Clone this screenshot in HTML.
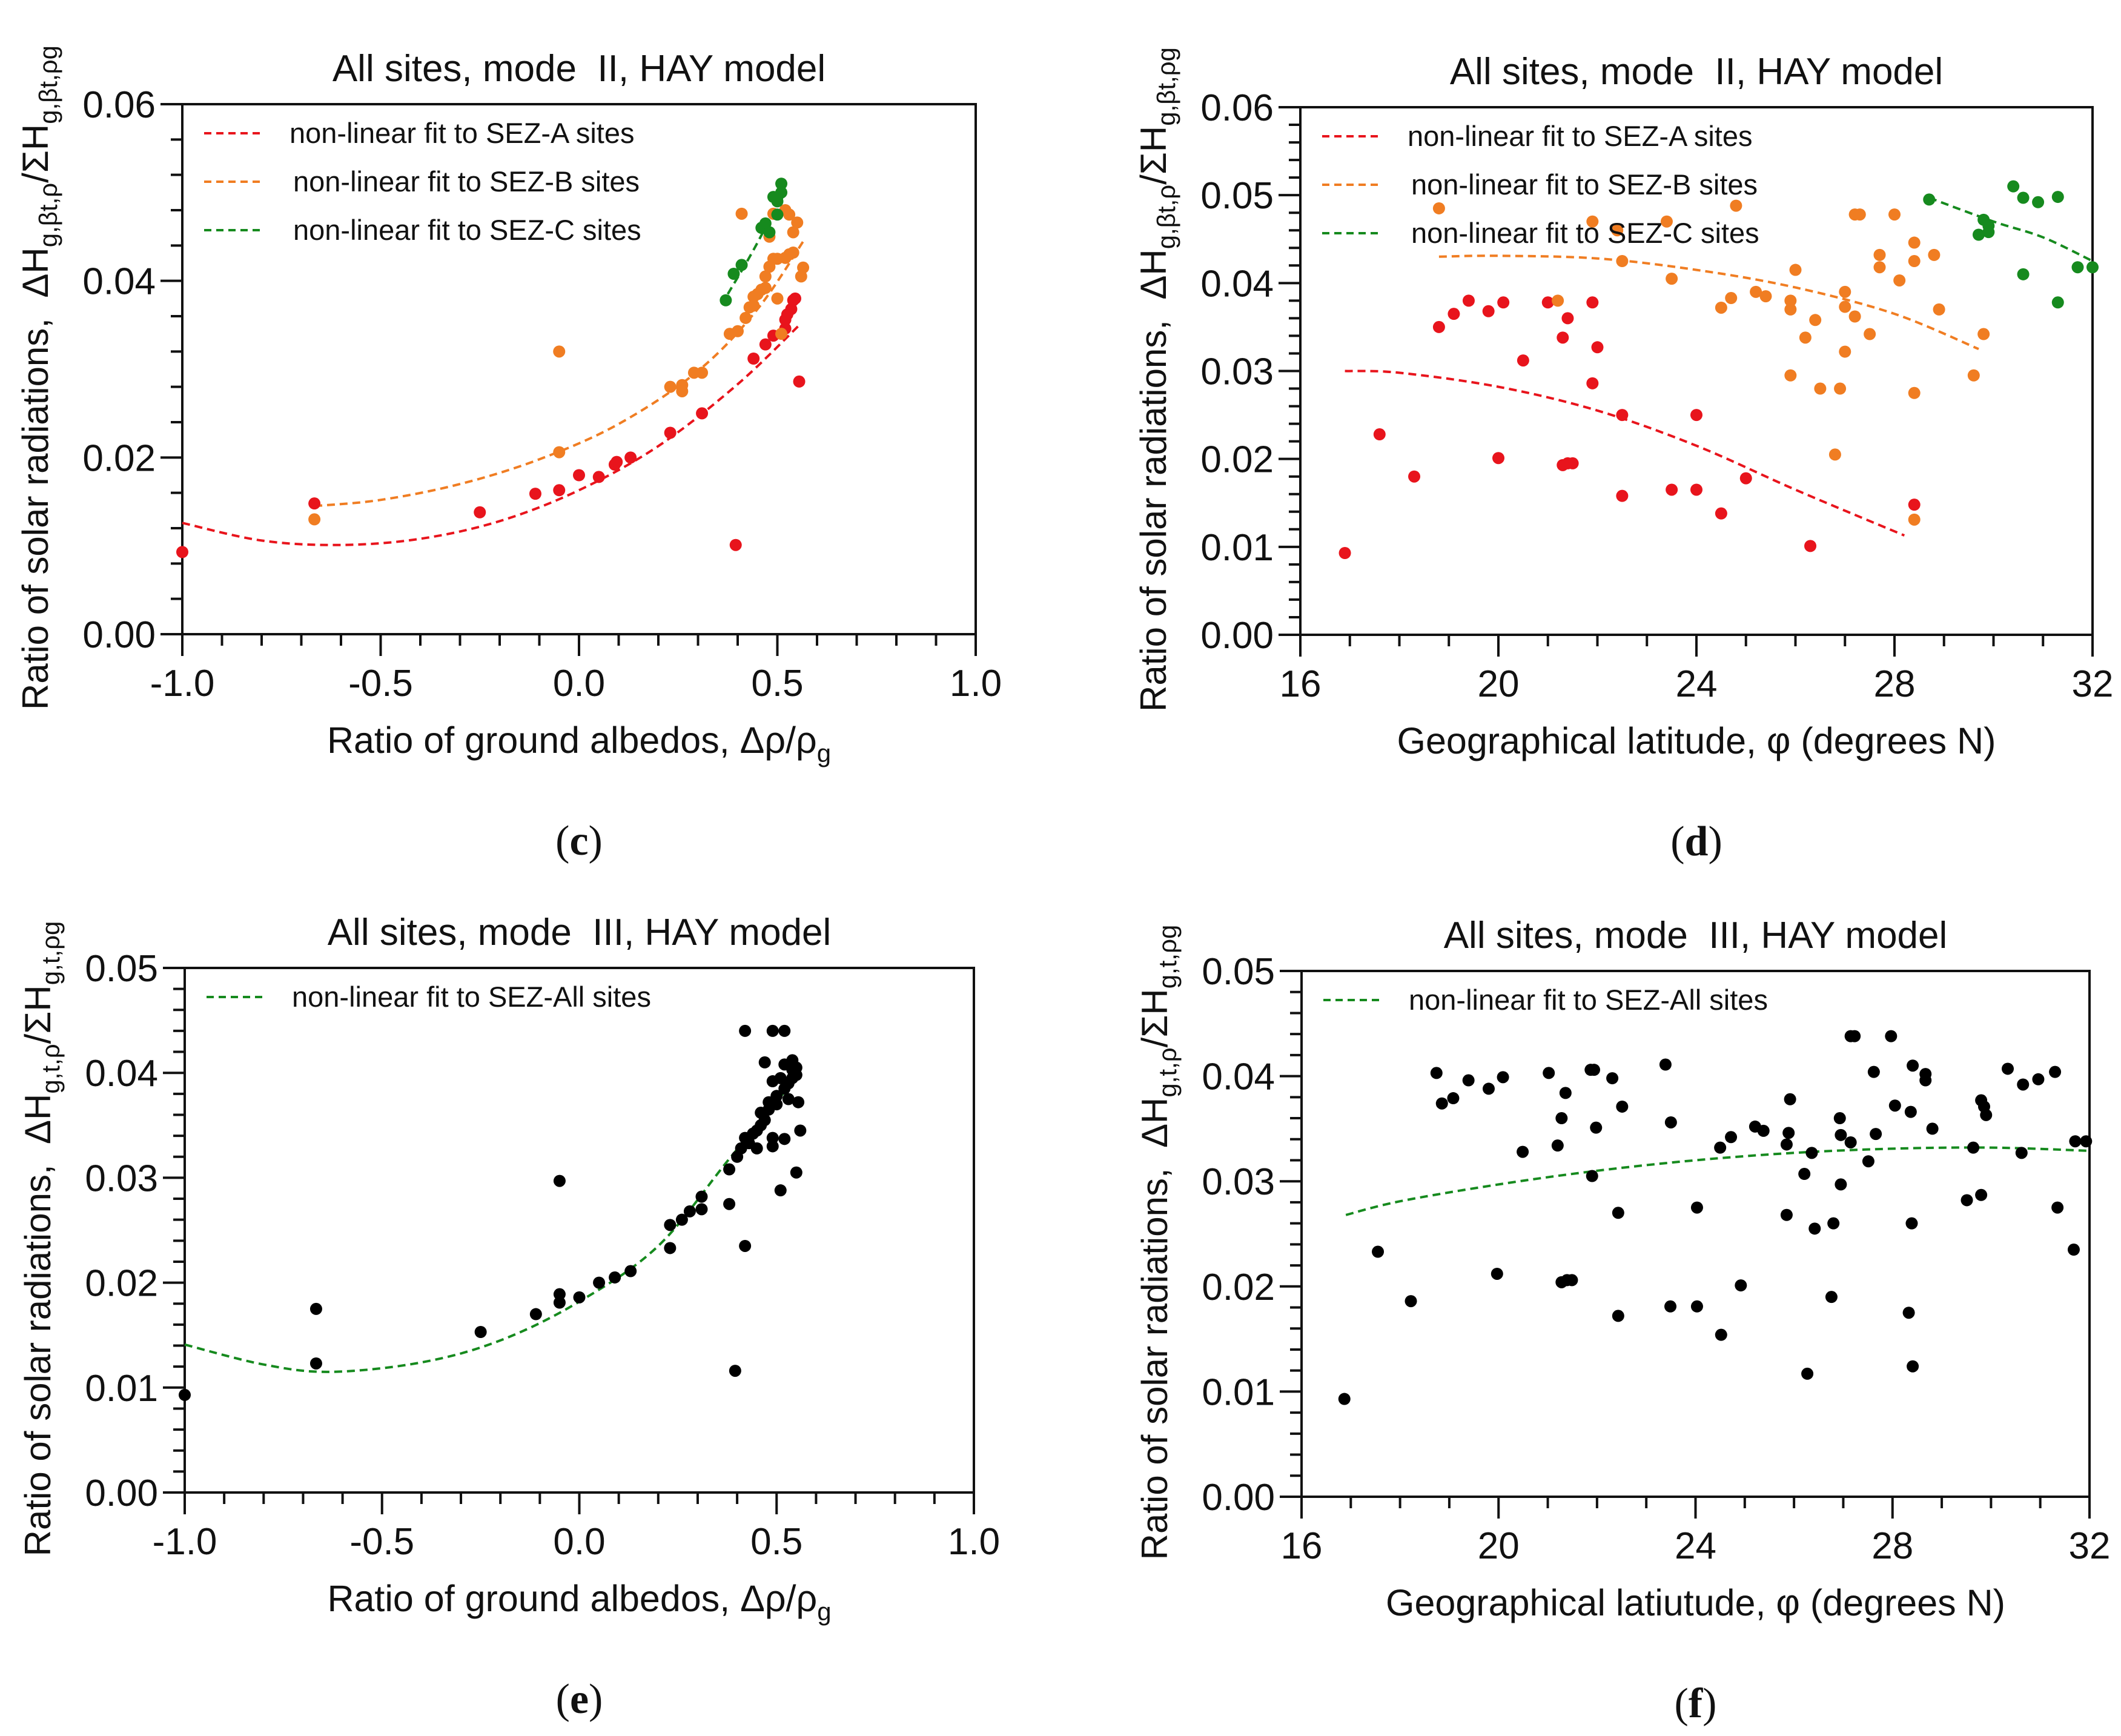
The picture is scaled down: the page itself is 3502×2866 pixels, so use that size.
<!DOCTYPE html>
<html><head><meta charset="utf-8">
<style>
html,body{margin:0;padding:0;background:#fff;}
svg{display:block;}
text{font-family:"Liberation Sans",Arial,sans-serif;fill:#111;white-space:pre;}
</style></head>
<body>
<svg id="fig" width="3502" height="2866" viewBox="0 0 3502 2866" xmlns="http://www.w3.org/2000/svg"></svg>
<script>
// ---------- Panel (c) data ----------
const cRedX = [-1,-0.667,-0.25,-0.11,-0.05,0,0.05,0.09,0.095,0.13,0.23,0.31,0.395,0.44,0.47,0.49,0.52,0.52,0.525,0.535,0.54,0.545,0.555];
const cRedY = [0.0093,0.0148,0.0138,0.0159,0.0163,0.018,0.0178,0.0192,0.0195,0.02,0.0228,0.025,0.0101,0.0312,0.0328,0.0338,0.0346,0.0356,0.0362,0.0368,0.0378,0.038,0.0286];
const cOrgX = [-0.667,-0.05,-0.05,0.23,0.26,0.26,0.29,0.31,0.38,0.4,0.41,0.42,0.43,0.44,0.44,0.45,0.46,0.47,0.47,0.48,0.48,0.49,0.49,0.5,0.5,0.51,0.52,0.52,0.53,0.53,0.54,0.54,0.55,0.56,0.565];
const cOrgY = [0.013,0.032,0.0206,0.028,0.0282,0.0275,0.0296,0.0296,0.034,0.0343,0.0476,0.0358,0.037,0.0372,0.0382,0.0385,0.039,0.0392,0.0405,0.0416,0.045,0.0425,0.0476,0.038,0.0425,0.034,0.0426,0.048,0.0475,0.043,0.0432,0.0455,0.0466,0.0405,0.0415];
const cGrnX = [0.37,0.39,0.41,0.46,0.47,0.48,0.49,0.5,0.5,0.5,0.51,0.51];
const cGrnY = [0.0378,0.0408,0.0418,0.046,0.0465,0.0455,0.0495,0.0495,0.049,0.0475,0.05,0.051];
const cFitRedX = [-1,-0.8,-0.6,-0.4,-0.2,0,0.2,0.4,0.56];
const cFitRedY = [0.0126,0.0106,0.0101,0.0108,0.0128,0.0163,0.0213,0.0283,0.0352];
const cFitOrgX = [-0.667,-0.5,-0.3,-0.1,0.1,0.3,0.45,0.57];
const cFitOrgY = [0.0145,0.0152,0.0170,0.0198,0.0238,0.0298,0.0368,0.0448];
const cFitGrnX = [0.375,0.44,0.51];
const cFitGrnY = [0.0385,0.0435,0.0495];
// ---------- Panel (d) data ----------
const dRedX = [16.9,17.6,18.3,18.8,19.1,19.4,19.8,20,20.1,20.5,21,21.3,21.3,21.4,21.4,21.5,21.9,21.9,22,22.5,22.5,23.5,24,24,24.5,25,26.3,28.4];
const dRedY = [0.0093,0.0228,0.018,0.035,0.0365,0.038,0.0368,0.0201,0.0378,0.0312,0.0378,0.0338,0.0193,0.036,0.0195,0.0195,0.0378,0.0286,0.0327,0.025,0.0158,0.0165,0.025,0.0165,0.0138,0.0178,0.0101,0.0148];
const dOrgX = [18.8,21.2,21.9,22.4,22.5,23.4,23.5,24.5,24.7,24.8,25.2,25.4,25.9,25.9,25.9,26,26.2,26.4,26.5,26.8,26.9,27,27,27,27.2,27.2,27.3,27.5,27.7,27.7,28,28.1,28.4,28.4,28.4,28.4,28.8,28.9,29.6,29.8];
const dOrgY = [0.0485,0.038,0.047,0.046,0.0425,0.047,0.0405,0.0372,0.0383,0.0488,0.039,0.0385,0.0295,0.037,0.038,0.0415,0.0338,0.0358,0.028,0.0205,0.028,0.039,0.0373,0.0322,0.0362,0.0478,0.0478,0.0342,0.0432,0.0418,0.0478,0.0403,0.0275,0.0425,0.0446,0.0131,0.0432,0.037,0.0295,0.0342];
const dGrnX = [28.7,29.7,29.8,29.9,29.9,30.4,30.6,30.6,30.9,31.3,31.3,31.7,32];
const dGrnY = [0.0495,0.0455,0.0472,0.0465,0.0458,0.051,0.041,0.0497,0.0492,0.0498,0.0378,0.0418,0.0418];
const dFitRedX = [16.9,18,20,22,24,26,28.2];
const dFitRedY = [0.030,0.0298,0.0282,0.0255,0.0215,0.0165,0.0113];
const dFitOrgX = [18.8,20,22,24,26,28,29.7];
const dFitOrgY = [0.0430,0.0431,0.0428,0.0415,0.0395,0.0365,0.0325];
const dFitGrnX = [28.7,30,31,32];
const dFitGrnY = [0.0497,0.0470,0.0452,0.0425];
// ---------- Panel (e) data ----------
const eX = [-1,-0.667,-0.667,-0.25,-0.11,-0.05,-0.05,-0.05,0,0.05,0.09,0.13,0.23,0.23,0.26,0.28,0.31,0.31,0.38,0.38,0.395,0.4,0.41,0.42,0.42,0.42,0.43,0.44,0.45,0.45,0.46,0.46,0.47,0.47,0.48,0.48,0.49,0.49,0.49,0.49,0.5,0.5,0.51,0.51,0.52,0.52,0.52,0.52,0.53,0.53,0.54,0.54,0.54,0.55,0.55,0.55,0.555,0.56];
const eY = [0.0093,0.0175,0.0123,0.0153,0.017,0.0297,0.0189,0.0181,0.0186,0.020,0.0205,0.0211,0.0233,0.0255,0.026,0.0268,0.027,0.0282,0.0275,0.0308,0.0116,0.032,0.0328,0.044,0.0235,0.0338,0.0333,0.0342,0.0328,0.0345,0.035,0.0362,0.0355,0.041,0.0365,0.0372,0.044,0.0392,0.0338,0.033,0.037,0.0378,0.0395,0.0288,0.0408,0.044,0.0385,0.0337,0.0375,0.039,0.0403,0.0395,0.0412,0.0405,0.0398,0.0305,0.0372,0.0345];
const eFitX = [-1,-0.8,-0.63,-0.4,-0.2,0,0.2,0.38,0.56];
const eFitY = [0.0141,0.0122,0.0115,0.0124,0.0145,0.0182,0.0235,0.0318,0.0400];
// ---------- Panel (f) data ----------
const fX = [16.87,17.55,18.22,18.74,18.85,19.08,19.39,19.8,19.97,20.09,20.49,21.02,21.2,21.28,21.28,21.36,21.39,21.49,21.87,21.9,21.94,21.98,22.31,22.43,22.43,22.51,23.39,23.49,23.5,24.03,24.03,24.5,24.52,24.72,24.92,25.21,25.38,25.85,25.85,25.89,25.92,26.21,26.27,26.36,26.42,26.76,26.8,26.93,26.95,26.95,27.15,27.15,27.23,27.51,27.62,27.66,27.97,28.05,28.33,28.37,28.39,28.41,28.41,28.67,28.67,28.81,29.51,29.64,29.8,29.8,29.86,29.9,30.34,30.62,30.65,30.96,31.3,31.35,31.68,31.71,31.93];
const fY = [0.0093,0.0233,0.0186,0.0403,0.0374,0.0379,0.0396,0.0388,0.0212,0.0399,0.0328,0.0403,0.0334,0.036,0.0204,0.0384,0.0206,0.0206,0.0406,0.0305,0.0406,0.0351,0.0398,0.027,0.0172,0.0371,0.0411,0.0181,0.0356,0.0275,0.0181,0.0332,0.0154,0.0342,0.0201,0.0352,0.0348,0.0335,0.0268,0.0346,0.0378,0.0307,0.0117,0.0327,0.0255,0.019,0.026,0.036,0.0344,0.0297,0.0337,0.0438,0.0438,0.0319,0.0404,0.0345,0.0438,0.0372,0.0175,0.0366,0.026,0.0124,0.041,0.0402,0.0396,0.035,0.0282,0.0332,0.0377,0.0287,0.0371,0.0363,0.0407,0.0327,0.0392,0.0397,0.0404,0.0275,0.0235,0.0338,0.0338];
const fFitX = [16.9,18,20,22,24,26,28,30,32];
const fFitY = [0.0268,0.0281,0.0297,0.0310,0.0320,0.0327,0.0331,0.0332,0.0329];

const xTicksAlb = [-1.0,-0.5,0.0,0.5,1.0];
const xTickLabAlb = ["-1.0","-0.5","0.0","0.5","1.0"];
const xTicksLat = [16,20,24,28,32];
const xTickLabLat = ["16","20","24","28","32"];
const yTicks06 = [0,0.02,0.04,0.06];
const yTickLab06 = ["0.00","0.02","0.04","0.06"];
const yTicks06b = [0,0.01,0.02,0.03,0.04,0.05,0.06];
const yTickLab06b = ["0.00","0.01","0.02","0.03","0.04","0.05","0.06"];
const yTicks05 = [0,0.01,0.02,0.03,0.04,0.05];
const yTickLab05 = ["0.00","0.01","0.02","0.03","0.04","0.05"];

const NS="http://www.w3.org/2000/svg";
const fig=document.getElementById('fig');
const RED="#e8141c", ORG="#f07d22", GRN="#168a1e", BLK="#000";
function mk(tag,attrs,parent){const e=document.createElementNS(NS,tag);for(const k in attrs)e.setAttribute(k,attrs[k]);(parent||fig).appendChild(e);return e;}
function smoothPath(pts){
  let d='M'+pts[0][0].toFixed(1)+' '+pts[0][1].toFixed(1);
  for(let i=0;i<pts.length-1;i++){
    const p0=pts[Math.max(0,i-1)],p1=pts[i],p2=pts[i+1],p3=pts[Math.min(pts.length-1,i+2)];
    const c1=[p1[0]+(p2[0]-p0[0])/6,p1[1]+(p2[1]-p0[1])/6];
    const c2=[p2[0]-(p3[0]-p1[0])/6,p2[1]-(p3[1]-p1[1])/6];
    d+=' C'+c1[0].toFixed(1)+' '+c1[1].toFixed(1)+' '+c2[0].toFixed(1)+' '+c2[1].toFixed(1)+' '+p2[0].toFixed(1)+' '+p2[1].toFixed(1);
  }
  return d;
}

function panel(cfg){
  const g=mk('g',{});
  
  
  const sx=v=>cfg.x0+(v-cfg.xmin)/(cfg.xmax-cfg.xmin)*(cfg.x1-cfg.x0);
  const sy=v=>cfg.y0-(v-cfg.ymin)/(cfg.ymax-cfg.ymin)*(cfg.y0-cfg.y1);
  const fr=mk('rect',{x:cfg.x0,y:cfg.y1,width:cfg.x1-cfg.x0,height:cfg.y0-cfg.y1,fill:'none',stroke:'#111','stroke-width':4},g);
  
  
  const nx=Math.round((cfg.xmax-cfg.xmin)/cfg.xminor);
  for(let i=0;i<=nx;i++){
    const v=cfg.xmin+i*cfg.xminor;const major=(i%cfg.xper===0);
    const t=mk('line',{x1:sx(v),x2:sx(v),y1:cfg.y0,y2:cfg.y0+(major?36:19),stroke:'#111','stroke-width':4},g);
    
    
  }
  cfg.xt.forEach((v,i)=>{
    const t=mk('text',{x:sx(v),y:cfg.y0+102,'font-size':62,'text-anchor':'middle'},g);t.textContent=cfg.xl[i];
    
    
  });
  const ny=Math.round((cfg.ymax-cfg.ymin)/cfg.yminor);
  for(let i=0;i<=ny;i++){
    const v=cfg.ymin+i*cfg.yminor;const major=(i%cfg.yper===0);
    const t=mk('line',{x1:cfg.x0,x2:cfg.x0-(major?36:19),y1:sy(v),y2:sy(v),stroke:'#111','stroke-width':4},g);
    
    
  }
  cfg.yt.forEach((v,i)=>{
    const t=mk('text',{x:cfg.x0-44,y:sy(v)+22,'font-size':62,'text-anchor':'end'},g);t.textContent=cfg.yl[i];
    
    
  });
  const ti=mk('text',{x:(cfg.x0+cfg.x1)/2,y:cfg.y1-38,'font-size':62,'text-anchor':'middle'},g);ti.textContent=cfg.title;
  
  
  const xa=mk('text',{x:(cfg.x0+cfg.x1)/2,y:cfg.y0+196,'font-size':61,'text-anchor':'middle'},g);
  xa.innerHTML=cfg.xtitle;
  
  
  const ym=(cfg.y0+cfg.y1)/2+14;
  const ya=mk('text',{x:0,y:0,'font-size':60,'text-anchor':'middle',transform:`translate(${cfg.x0-222},${ym}) rotate(-90)`},g);
  ya.innerHTML='Ratio of solar radiations,  ΔH<tspan font-size="42" dy="15">'+cfg.sub1+'</tspan><tspan dy="-15">/ΣH</tspan><tspan font-size="42" dy="15">'+cfg.sub2+'</tspan>';
  
  
  const cap=mk('text',{x:(cfg.x0+cfg.x1)/2,y:cfg.y0+364,'font-size':70,'text-anchor':'middle'},g);
  cap.innerHTML='(<tspan font-weight="bold">'+cfg.caption+'</tspan>)';
  cap.style.fontFamily='"Liberation Serif",serif';
  
  
  cfg.fits.forEach(f=>{
    const pts=f.x.map((v,i)=>[sx(v),sy(f.y[i])]);
    const path=mk('path',{d:smoothPath(pts),fill:'none',stroke:f.c,'stroke-width':4,'stroke-dasharray':'13 8'},g);
    
    
  });
  cfg.series.forEach(s=>{
    s.x.forEach((v,i)=>{
      const c=mk('circle',{cx:sx(v),cy:sy(s.y[i]),r:10,fill:s.c},g);
      
      
    });
  });
  cfg.legend.forEach((L,i)=>{
    const y=cfg.y1+48+i*80;
    const ln=mk('line',{x1:cfg.x0+36,x2:cfg.x0+132,y1:y,y2:y,stroke:L.c,'stroke-width':4,'stroke-dasharray':'12 8'},g);
    
    
    const t=mk('text',{x:cfg.x0+177+(i?6:0),y:y+16,'font-size':47},g);t.textContent=L.t;
    
    
  });
}
const albTitle='Ratio of ground albedos, Δρ/ρ<tspan font-size="42" dy="15">g</tspan>';
panel({name:'panel-c',x0:301,x1:1611,y0:1047,y1:172,xmin:-1,xmax:1,ymin:0,ymax:0.06,xminor:0.1,xper:5,yminor:0.004,yper:5,
  xt:xTicksAlb,xl:xTickLabAlb,yt:yTicks06,yl:yTickLab06,title:'All sites, mode  II, HAY model',xtitle:albTitle,
  sub1:'g,βt,ρ',sub2:'g,βt,ρg',caption:'c',
  fits:[{x:cFitRedX,y:cFitRedY,c:RED},{x:cFitOrgX,y:cFitOrgY,c:ORG},{x:cFitGrnX,y:cFitGrnY,c:GRN}],
  series:[{x:cRedX,y:cRedY,c:RED},{x:cOrgX,y:cOrgY,c:ORG},{x:cGrnX,y:cGrnY,c:GRN}],
  legend:[{t:'non-linear fit to SEZ-A sites',c:RED},{t:'non-linear fit to SEZ-B sites',c:ORG},{t:'non-linear fit to SEZ-C sites',c:GRN}]});
panel({name:'panel-d',x0:2147,x1:3455,y0:1048,y1:177,xmin:16,xmax:32,ymin:0,ymax:0.06,xminor:1,xper:4,yminor:0.002,yper:5,
  xt:xTicksLat,xl:xTickLabLat,yt:yTicks06b,yl:yTickLab06b,title:'All sites, mode  II, HAY model',xtitle:'Geographical latitude, φ (degrees N)',
  sub1:'g,βt,ρ',sub2:'g,βt,ρg',caption:'d',
  fits:[{x:dFitRedX,y:dFitRedY,c:RED},{x:dFitOrgX,y:dFitOrgY,c:ORG},{x:dFitGrnX,y:dFitGrnY,c:GRN}],
  series:[{x:dRedX,y:dRedY,c:RED},{x:dOrgX,y:dOrgY,c:ORG},{x:dGrnX,y:dGrnY,c:GRN}],
  legend:[{t:'non-linear fit to SEZ-A sites',c:RED},{t:'non-linear fit to SEZ-B sites',c:ORG},{t:'non-linear fit to SEZ-C sites',c:GRN}]});
panel({name:'panel-e',x0:305,x1:1608,y0:2464,y1:1598,xmin:-1,xmax:1,ymin:0,ymax:0.05,xminor:0.1,xper:5,yminor:0.002,yper:5,
  xt:xTicksAlb,xl:xTickLabAlb,yt:yTicks05,yl:yTickLab05,title:'All sites, mode  III, HAY model',xtitle:albTitle,
  sub1:'g,t,ρ',sub2:'g,t,ρg',caption:'e',
  fits:[{x:eFitX,y:eFitY,c:GRN}],series:[{x:eX,y:eY,c:BLK}],
  legend:[{t:'non-linear fit to SEZ-All sites',c:GRN}]});
panel({name:'panel-f',x0:2149,x1:3450,y0:2471,y1:1603,xmin:16,xmax:32,ymin:0,ymax:0.05,xminor:1,xper:4,yminor:0.002,yper:5,
  xt:xTicksLat,xl:xTickLabLat,yt:yTicks05,yl:yTickLab05,title:'All sites, mode  III, HAY model',xtitle:'Geographical latiutude, φ (degrees N)',
  sub1:'g,t,ρ',sub2:'g,t,ρg',caption:'f',
  fits:[{x:fFitX,y:fFitY,c:GRN}],series:[{x:fX,y:fY,c:BLK}],
  legend:[{t:'non-linear fit to SEZ-All sites',c:GRN}]});
</script>
</body></html>
